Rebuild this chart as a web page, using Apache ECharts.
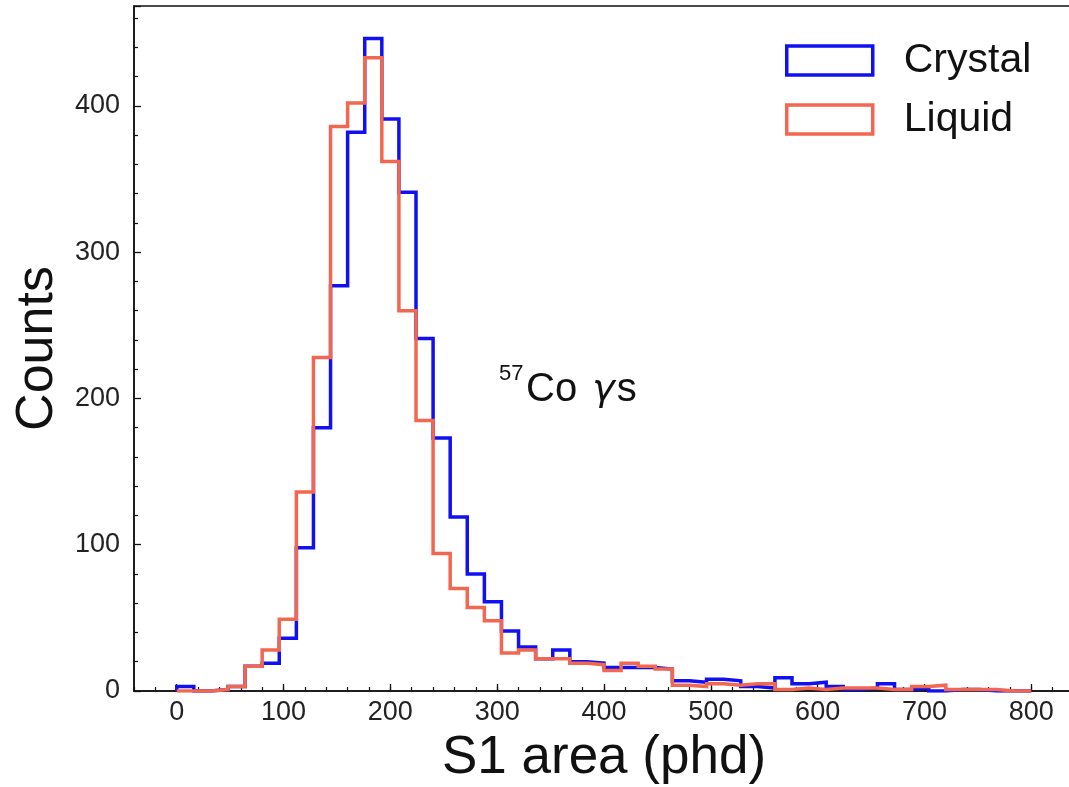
<!DOCTYPE html>
<html>
<head>
<meta charset="utf-8">
<script src="https://cdn.jsdelivr.net/npm/echarts@6/dist/echarts.min.js"></script>
<style>
html,body{margin:0;padding:0;background:#fff;}
#chart{width:1069px;height:787px;}
</style>
</head>
<body>
<div id="chart"></div>
<script>
// Histogram binning (S1 area, phd)
const binStart = 0;
const binWidth = 16;
// Counts per bin (50 bins from 0 to 800)
const crystalCounts = [3,0,1,3,17,19,36,98,180,277,382,446,391,341,241,173,119,80,61,41,30,22,28,20,19,16,16,16,15,7,6,8,7,3,2,9,5,6,3,1,2,5,1,2,0,1,1,0,0,0];
const liquidCounts  = [0,0,1,3,17,28,49,136,228,386,402,433,362,260,185,94,70,57,48,26,28,22,22,19,18,14,19,17,15,4,3,5,4,5,5,1,2,1,2,2,2,1,1,3,4,1,1,1,0,0];
const seriesNames = ['Crystal','Liquid'];
const xTickLabels = [0,100,200,300,400,500,600,700,800];
const yTickLabels = [0,100,200,300,400];

function stepOutline(counts){
  const pts = [[binStart, 0]];
  counts.forEach((c, i) => {
    const x0 = binStart + i * binWidth;
    pts.push([x0, c], [x0 + binWidth, c]);
  });
  pts.push([binStart + counts.length * binWidth, 0]);
  return pts;
}

const BLUE = '#1010f0';
const RED = '#f2674f';
const FONT = 'Liberation Sans, Arial, Helvetica, sans-serif';
const yMax = Math.max(...crystalCounts, ...liquidCounts) * 1.05;
const X_MIN = -40, X_MAX = 840;

const chart = echarts.init(document.getElementById('chart'), null, {renderer:'canvas'});
chart.setOption({
  backgroundColor: '#fff',
  animation: false,
  grid: {left: 134, right: -5, top: 6, bottom: 96, show: true, borderColor: '#111', borderWidth: 1.5, containLabel: false, outerBoundsMode: 'none'},
  legend: {
    orient: 'vertical', left: 780, top: 35, padding: 5,
    itemWidth: 86, itemHeight: 29, itemGap: 18,
    icon: 'rect',
    textStyle: {fontFamily: FONT, fontSize: 41, color: '#111', padding: [0,0,0,26]},
    data: [
      {name: 'Crystal', itemStyle: {color: 'rgba(0,0,0,0)', borderColor: BLUE, borderWidth: 3.5}},
      {name: 'Liquid', itemStyle: {color: 'rgba(0,0,0,0)', borderColor: RED, borderWidth: 3.5}}
    ]
  },
  xAxis: [
    {
      // minor-tick axis (every 20) with labels at the hundreds
      type: 'value', min: X_MIN, max: X_MAX, interval: 20,
      name: 'S1 area (phd)', nameLocation: 'middle', nameGap: 41,
      nameTextStyle: {fontFamily: FONT, fontSize: 53, color: '#111'},
      axisLine: {show: true, onZero: false, lineStyle: {color: '#111', width: 1.5}},
      axisTick: {show: true, inside: true, length: 4, lineStyle: {color: '#111', width: 1.2}},
      splitLine: {show: false},
      axisLabel: {
        show: true, margin: 8, fontFamily: FONT, fontSize: 27, color: '#222',
        customValues: xTickLabels,
        formatter: v => xTickLabels.includes(v) ? String(v) : ''
      }
    },
    {
      // major ticks at the hundreds
      type: 'value', min: X_MIN, max: X_MAX, position: 'bottom',
      axisLine: {show: false, onZero: false},
      axisTick: {show: true, inside: true, length: 7, customValues: xTickLabels, lineStyle: {color: '#111', width: 1.3}},
      axisLabel: {show: false},
      splitLine: {show: false}
    }
  ],
  yAxis: {
    type: 'value', min: 0, max: yMax, interval: 100,
    name: 'Counts', nameLocation: 'middle', nameGap: 64,
    nameTextStyle: {fontFamily: FONT, fontSize: 52, color: '#111'},
    axisLine: {show: true, onZero: false, lineStyle: {color: '#111', width: 1.5}},
    axisTick: {show: true, inside: true, length: 7, lineStyle: {color: '#111', width: 1.3}},
    minorTick: {show: true, splitNumber: 5, length: 4, lineStyle: {color: '#111', width: 1.2}},
    splitLine: {show: false}, minorSplitLine: {show: false},
    axisLabel: {
      show: true, margin: 14, fontFamily: FONT, fontSize: 27, color: '#222',
      showMaxLabel: false,
      formatter: v => yTickLabels.includes(v) ? String(v) : ''
    }
  },
  graphic: [
    {type: 'text', left: 499, top: 363, z: 100,
     style: {text: '57', fontFamily: FONT, fontSize: 22, fill: '#111'}},
    {type: 'text', left: 526, top: 370, z: 100,
     style: {text: '{n|Co }{i|γ}{n|s}', fontFamily: FONT, fontSize: 40, fill: '#111',
       rich: {n: {fontFamily: FONT, fontSize: 40, color: '#111'},
              i: {fontFamily: 'DejaVu Sans, ' + FONT, fontSize: 38, fontStyle: 'italic', color: '#111', padding: [0, 2, 0, 4]}}}}
  ],
  series: [
    {name: seriesNames[0], type: 'line', xAxisIndex: 0, data: stepOutline(crystalCounts), showSymbol: false, symbol: 'none',
     color: BLUE, lineStyle: {color: BLUE, width: 3.5, join: 'miter'}, z: 2, clip: true},
    {name: seriesNames[1], type: 'line', xAxisIndex: 0, data: stepOutline(liquidCounts), showSymbol: false, symbol: 'none',
     color: RED, lineStyle: {color: RED, width: 3.5, join: 'miter'}, z: 3, clip: true}
  ]
});
</script>
</body>
</html>
